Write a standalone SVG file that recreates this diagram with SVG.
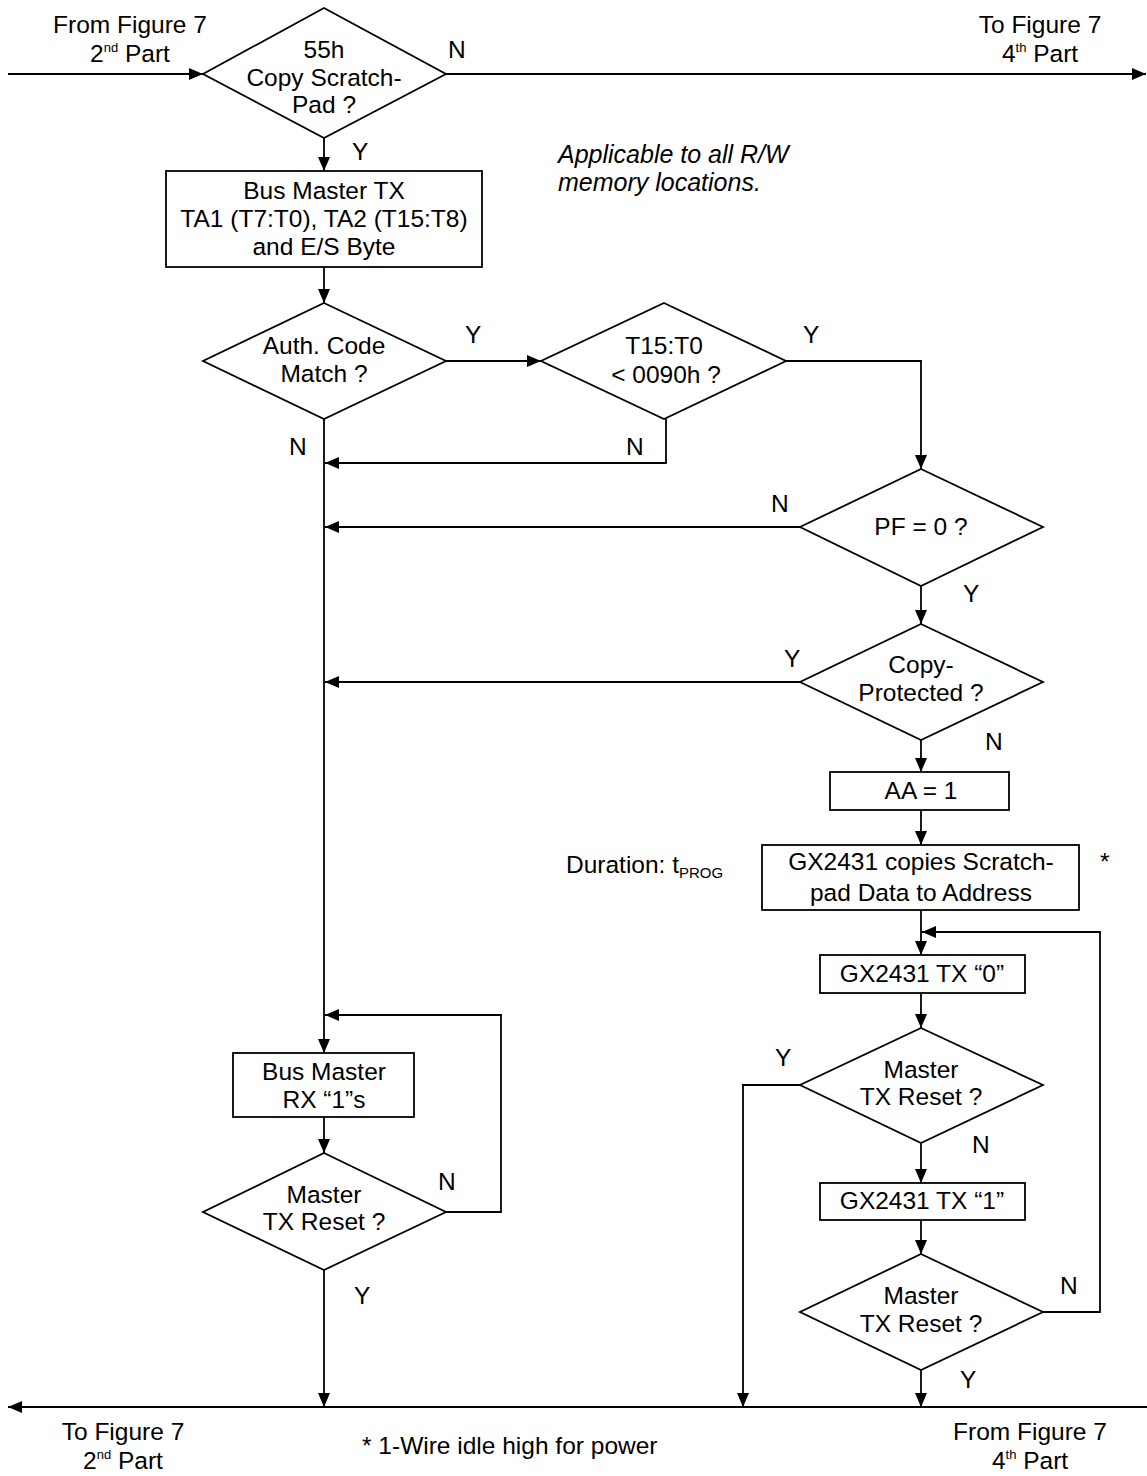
<svg xmlns="http://www.w3.org/2000/svg" width="1147" height="1476" viewBox="0 0 1147 1476">
<defs>
<marker id="arr" markerUnits="userSpaceOnUse" markerWidth="14" markerHeight="12" viewBox="0 0 14 12" refX="14" refY="6" orient="auto">
<path d="M0,0 L14,6 L0,12 Z" fill="#000"/>
</marker>
<style>
.s{fill:#fff;stroke:#000;stroke-width:1.8}
.c{fill:none;stroke:#000;stroke-width:1.8}
text{font-family:"Liberation Sans",Arial,sans-serif;font-size:24.5px;fill:#000}
.m{text-anchor:middle}
.it{font-style:italic;font-size:25px}
.sup{font-size:13px}
</style>
</defs>
<rect width="1147" height="1476" fill="#fff"/>

<g id="connectors">
<path class="c" d="M8,74 H203" marker-end="url(#arr)"/>
<path class="c" d="M446,74 H1146" marker-end="url(#arr)"/>
<path class="c" d="M324,138 V171" marker-end="url(#arr)"/>
<path class="c" d="M324,267 V303" marker-end="url(#arr)"/>
<path class="c" d="M446,361 H541" marker-end="url(#arr)"/>
<path class="c" d="M324,419 V1053" marker-end="url(#arr)"/>
<path class="c" d="M666,419 V463 H325" marker-end="url(#arr)"/>
<path class="c" d="M786,361 H921 V469" marker-end="url(#arr)"/>
<path class="c" d="M800,527 H325" marker-end="url(#arr)"/>
<path class="c" d="M921,586 V624" marker-end="url(#arr)"/>
<path class="c" d="M800,682 H325" marker-end="url(#arr)"/>
<path class="c" d="M921,740 V772" marker-end="url(#arr)"/>
<path class="c" d="M921,810 V845" marker-end="url(#arr)"/>
<path class="c" d="M921,910 V955" marker-end="url(#arr)"/>
<path class="c" d="M921,993 V1028" marker-end="url(#arr)"/>
<path class="c" d="M800,1085 H743 V1407" marker-end="url(#arr)"/>
<path class="c" d="M921,1143 V1183" marker-end="url(#arr)"/>
<path class="c" d="M921,1220 V1254" marker-end="url(#arr)"/>
<path class="c" d="M1043,1312 H1100 V932 H922" marker-end="url(#arr)"/>
<path class="c" d="M921,1370 V1407" marker-end="url(#arr)"/>
<path class="c" d="M324,1117 V1153" marker-end="url(#arr)"/>
<path class="c" d="M446,1212 H501 V1015 H325" marker-end="url(#arr)"/>
<path class="c" d="M324,1270 V1407" marker-end="url(#arr)"/>
<path class="c" d="M1147,1407 H8" marker-end="url(#arr)"/>
</g>

<g id="labels">
<text class="m" x="130" y="33">From Figure 7</text>
<text class="m" x="130" y="62">2<tspan class="sup" dy="-10">nd</tspan><tspan dy="10"> Part</tspan></text>
<text class="m" x="1040" y="33">To Figure 7</text>
<text class="m" x="1040" y="62">4<tspan class="sup" dy="-10">th</tspan><tspan dy="10"> Part</tspan></text>
<text x="448" y="58">N</text>
<text x="352" y="160">Y</text>
<text class="it" x="558" y="163">Applicable to all R/W</text>
<text class="it" x="558" y="191">memory locations.</text>
<text x="465" y="343">Y</text>
<text x="803" y="343">Y</text>
<text x="289" y="455">N</text>
<text x="626" y="455">N</text>
<text x="771" y="512">N</text>
<text x="963" y="602">Y</text>
<text x="784" y="667">Y</text>
<text x="985" y="750">N</text>
<text x="566" y="873">Duration: t<tspan font-size="15" dy="5">PROG</tspan></text>
<text x="1100" y="870">*</text>
<text x="775" y="1066">Y</text>
<text x="972" y="1153">N</text>
<text x="1060" y="1294">N</text>
<text x="960" y="1388">Y</text>
<text x="438" y="1190">N</text>
<text x="354" y="1304">Y</text>
<text class="m" x="123" y="1440">To Figure 7</text>
<text class="m" x="123" y="1469">2<tspan class="sup" dy="-10">nd</tspan><tspan dy="10"> Part</tspan></text>
<text x="362" y="1454">* 1-Wire idle high for power</text>
<text class="m" x="1030" y="1440">From Figure 7</text>
<text class="m" x="1030" y="1469">4<tspan class="sup" dy="-10">th</tspan><tspan dy="10"> Part</tspan></text>
</g>

<g id="d_copy">
<polygon class="s" points="324,8 446,74 324,138 203,74"/>
<text class="m" x="324" y="58">55h</text>
<text class="m" x="324" y="86">Copy Scratch-</text>
<text class="m" x="324" y="113">Pad ?</text>
</g>

<g id="b_tx">
<rect class="s" x="166" y="171" width="316" height="96"/>
<text class="m" x="324" y="199">Bus Master TX</text>
<text class="m" x="324" y="227">TA1 (T7:T0), TA2 (T15:T8)</text>
<text class="m" x="324" y="255">and E/S Byte</text>
</g>

<g id="d_auth">
<polygon class="s" points="324,303 446,361 324,419 203,361"/>
<text class="m" x="324" y="354">Auth. Code</text>
<text class="m" x="324" y="382">Match ?</text>
</g>

<g id="d_t15">
<polygon class="s" points="664,303 786,361 664,419 541,361"/>
<text class="m" x="664" y="354">T15:T0</text>
<text class="m" x="666" y="383">&lt; 0090h ?</text>
</g>

<g id="d_pf">
<polygon class="s" points="921,469 1043,527 921,586 800,527"/>
<text class="m" x="921" y="535">PF = 0 ?</text>
</g>

<g id="d_cp">
<polygon class="s" points="921,624 1043,682 921,740 800,682"/>
<text class="m" x="921" y="673">Copy-</text>
<text class="m" x="921" y="701">Protected ?</text>
</g>

<g id="b_aa">
<rect class="s" x="830" y="772" width="179" height="38"/>
<text class="m" x="921" y="799">AA = 1</text>
</g>

<g id="b_copy">
<rect class="s" x="762" y="845" width="317" height="65"/>
<text class="m" x="921" y="870">GX2431 copies Scratch-</text>
<text class="m" x="921" y="901">pad Data to Address</text>
</g>

<g id="b_tx0">
<rect class="s" x="820" y="955" width="205" height="38"/>
<text class="m" x="922" y="982">GX2431 TX “0”</text>
</g>

<g id="d_r1">
<polygon class="s" points="921,1028 1043,1085 921,1143 800,1085"/>
<text class="m" x="921" y="1078">Master</text>
<text class="m" x="921" y="1105">TX Reset ?</text>
</g>

<g id="b_tx1">
<rect class="s" x="820" y="1183" width="205" height="37"/>
<text class="m" x="922" y="1209">GX2431 TX “1”</text>
</g>

<g id="d_r2">
<polygon class="s" points="921,1254 1043,1312 921,1370 800,1312"/>
<text class="m" x="921" y="1304">Master</text>
<text class="m" x="921" y="1332">TX Reset ?</text>
</g>

<g id="b_rx">
<rect class="s" x="233" y="1053" width="181" height="64"/>
<text class="m" x="324" y="1080">Bus Master</text>
<text class="m" x="324" y="1108">RX “1”s</text>
</g>

<g id="d_rl">
<polygon class="s" points="324,1153 446,1212 324,1270 203,1212"/>
<text class="m" x="324" y="1203">Master</text>
<text class="m" x="324" y="1230">TX Reset ?</text>
</g>
</svg>
